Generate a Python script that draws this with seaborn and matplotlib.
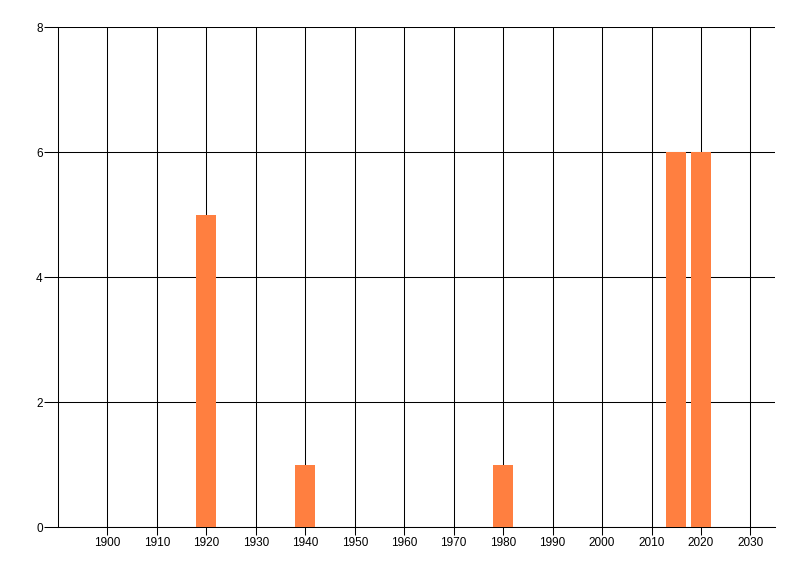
import matplotlib
matplotlib.use("Agg")
import matplotlib.pyplot as plt
import seaborn as sns
import pandas as pd

# ── DATA ───────────────────────────────────────────────────
years = [1920, 1940, 1980, 2015, 2020]
counts = [5, 1, 1, 6, 6]
x_ticks = list(range(1900, 2031, 10))
y_ticks = [0, 2, 4, 6, 8]

df = pd.DataFrame({"year": years, "count": counts})

sns.set_style("white")
plt.rcParams["font.family"] = ["Liberation Sans", "DejaVu Sans"]

LW = 0.75  # ~1 px at 100 dpi

fig = plt.figure(figsize=(8, 5.76), dpi=100)
ax = fig.add_axes([0.0725, 0.085, 0.8965, 0.868])

sns.barplot(data=df, x="year", y="count", native_scale=True, width=0.8,
            color="#FF7F40", saturation=1, linewidth=0, ax=ax, zorder=3)

ax.set_xlim(1890, 2035)
ax.set_ylim(0, 8)
ax.set_xticks(x_ticks)
ax.set_xticklabels([str(t) for t in x_ticks])
ax.set_yticks(y_ticks)
ax.set_xlabel("")
ax.set_ylabel("")

ax.grid(True, color="black", linewidth=LW)
ax.set_axisbelow(True)
for side in ["top", "right"]:
    ax.spines[side].set_visible(False)
for side in ["left", "bottom"]:
    ax.spines[side].set_color("black")
    ax.spines[side].set_linewidth(LW)

ax.tick_params(axis="x", length=6, width=LW, color="black", labelsize=8.5,
               labelcolor="black", pad=1)
ax.tick_params(axis="y", length=10, width=LW, color="black", labelsize=8.5,
               labelcolor="black", pad=1)
ax.tick_params(left=True, bottom=True)

fig.savefig("out.png", dpi=100)
